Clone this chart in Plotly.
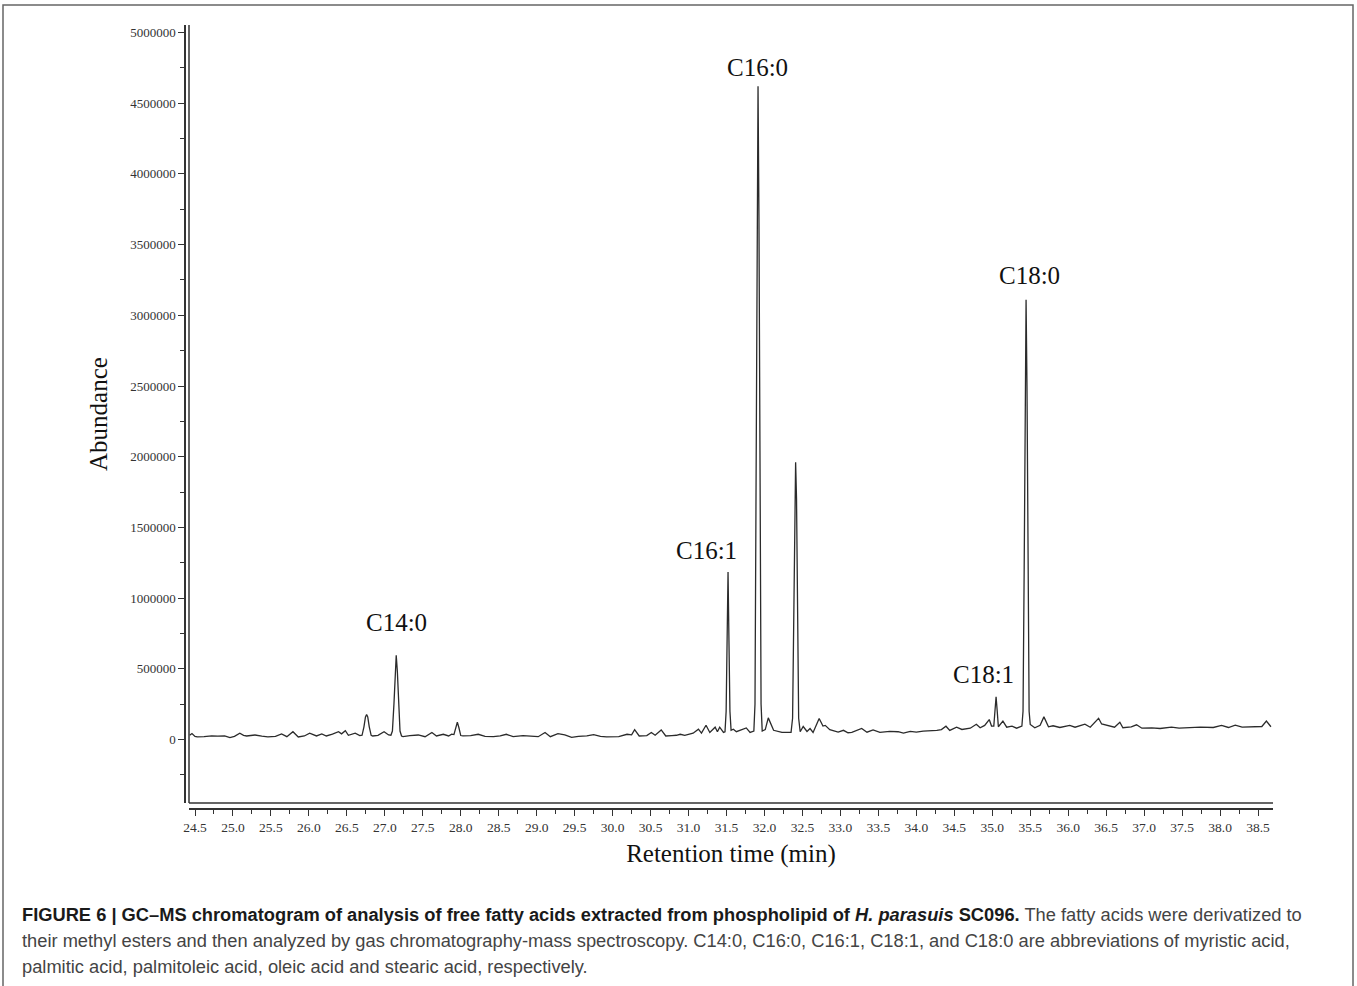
import plotly.graph_objects as go

# Retention time (min) and abundance
time_min = [
    24.43, 24.46, 24.50, 24.53, 24.62, 24.72, 24.80, 24.89, 24.96, 25.02,
    25.09, 25.14, 25.18, 25.29, 25.38, 25.46, 25.56, 25.64, 25.71, 25.79,
    25.86, 25.94, 26.01, 26.10, 26.17, 26.23, 26.31, 26.39, 26.43, 26.48,
    26.52, 26.57, 26.61, 26.67, 26.70, 26.725, 26.745, 26.76, 26.775, 26.795,
    26.82, 26.84, 26.91, 26.99, 27.05, 27.08, 27.10, 27.12, 27.135, 27.15,
    27.165, 27.18, 27.20, 27.22, 27.24, 27.33, 27.44, 27.53, 27.62, 27.68,
    27.77, 27.84, 27.88, 27.91, 27.935, 27.955, 27.975, 28.00, 28.03, 28.13,
    28.23, 28.32, 28.43, 28.52, 28.60, 28.69, 28.82, 28.92, 29.02, 29.11,
    29.18, 29.28, 29.37, 29.46, 29.55, 29.66, 29.75, 29.84, 29.92, 30.08,
    30.19, 30.25, 30.29, 30.35, 30.45, 30.51, 30.56, 30.64, 30.70, 30.78,
    30.84, 30.89, 30.95, 31.06, 31.13, 31.17, 31.23, 31.28, 31.35, 31.38,
    31.41, 31.46, 31.48, 31.495, 31.508, 31.52, 31.532, 31.545, 31.56, 31.59,
    31.63, 31.70, 31.76, 31.81, 31.86, 31.875, 31.89, 31.903, 31.915, 31.927,
    31.94, 31.955, 31.97, 32.01, 32.05, 32.12, 32.23, 32.35, 32.37, 32.385,
    32.398, 32.41, 32.422, 32.435, 32.45, 32.47, 32.51, 32.56, 32.60, 32.64,
    32.72, 32.77, 32.80, 32.86, 32.97, 33.04, 33.10, 33.15, 33.28, 33.35,
    33.43, 33.52, 33.65, 33.76, 33.83, 33.92, 34.00, 34.09, 34.18, 34.27,
    34.33, 34.39, 34.44, 34.53, 34.60, 34.71, 34.79, 34.84, 34.90, 34.96,
    34.99, 35.02, 35.035, 35.05, 35.065, 35.08, 35.14, 35.19, 35.26, 35.32,
    35.39, 35.405, 35.42, 35.433, 35.445, 35.457, 35.47, 35.485, 35.50, 35.56,
    35.63, 35.68, 35.74, 35.80, 35.89, 36.02, 36.09, 36.16, 36.22, 36.29,
    36.40, 36.44, 36.50, 36.61, 36.68, 36.72, 36.83, 36.90, 36.97, 37.10,
    37.21, 37.36, 37.46, 37.56, 37.74, 37.91, 38.02, 38.11, 38.20, 38.29,
    38.44, 38.55, 38.61, 38.67,
]
abundance = [
    30000, 42000, 22000, 18000, 20000, 26000, 24000, 26000, 13000, 22000,
    45000, 30000, 25000, 32000, 24000, 18000, 22000, 40000, 20000, 55000,
    18000, 25000, 45000, 25000, 40000, 25000, 38000, 55000, 40000, 62000,
    30000, 40000, 45000, 28000, 30000, 90000, 160000, 177000, 160000, 90000,
    30000, 25000, 30000, 55000, 32000, 30000, 60000, 250000, 480000, 596000,
    480000, 250000, 60000, 25000, 20000, 28000, 32000, 20000, 50000, 25000,
    37000, 25000, 38000, 35000, 85000, 122000, 85000, 28000, 25000, 28000,
    37000, 22000, 20000, 25000, 37000, 20000, 28000, 24000, 20000, 50000,
    20000, 42000, 33000, 15000, 22000, 25000, 35000, 22000, 18000, 20000,
    37000, 33000, 70000, 25000, 28000, 50000, 30000, 68000, 25000, 28000,
    30000, 37000, 30000, 45000, 73000, 45000, 101000, 50000, 87000, 55000,
    87000, 50000, 55000, 200000, 700000, 1185000, 700000, 200000, 65000, 73000,
    55000, 68000, 82000, 50000, 60000, 250000, 1700000, 3700000, 4620000, 3700000,
    1700000, 250000, 60000, 70000, 153000, 65000, 50000, 50000, 150000, 900000,
    1700000, 1960000, 1700000, 900000, 150000, 55000, 92000, 57000, 78000, 50000,
    148000, 95000, 100000, 70000, 52000, 65000, 48000, 50000, 78000, 52000,
    68000, 50000, 57000, 55000, 45000, 58000, 52000, 60000, 61000, 65000,
    70000, 94000, 64000, 87000, 71000, 80000, 108000, 83000, 100000, 141000,
    95000, 95000, 200000, 302000, 200000, 90000, 130000, 87000, 94000, 80000,
    95000, 200000, 1200000, 2500000, 3110000, 2500000, 1200000, 200000, 106000, 83000,
    100000, 160000, 90000, 97000, 85000, 100000, 87000, 100000, 108000, 87000,
    150000, 110000, 100000, 87000, 122000, 83000, 90000, 104000, 80000, 82000,
    78000, 87000, 80000, 83000, 87000, 85000, 100000, 85000, 102000, 88000,
    90000, 92000, 130000, 90000,
]

# Peak labels
peak_labels = ["C14:0", "C16:1", "C16:0", "C18:1", "C18:0"]
peak_label_time = [27.15, 31.23, 31.91, 34.88, 35.49]
peak_label_abund = [824000, 1340000, 4756000, 463000, 3285000]

# Axis ticks
x_tick_vals = [24.5, 25.0, 25.5, 26.0, 26.5, 27.0, 27.5, 28.0, 28.5, 29.0,
               29.5, 30.0, 30.5, 31.0, 31.5, 32.0, 32.5, 33.0, 33.5, 34.0,
               34.5, 35.0, 35.5, 36.0, 36.5, 37.0, 37.5, 38.0, 38.5]
x_tick_text = ["24.5", "25.0", "25.5", "26.0", "26.5", "27.0", "27.5", "28.0",
               "28.5", "29.0", "29.5", "30.0", "30.5", "31.0", "31.5", "32.0",
               "32.5", "33.0", "33.5", "34.0", "34.5", "35.0", "35.5", "36.0",
               "36.5", "37.0", "37.5", "38.0", "38.5"]
y_tick_vals = [0, 500000, 1000000, 1500000, 2000000, 2500000, 3000000,
               3500000, 4000000, 4500000, 5000000]
y_tick_text = ["0", "500000", "1000000", "1500000", "2000000", "2500000",
               "3000000", "3500000", "4000000", "4500000", "5000000"]

caption_lines = [
    "<b><span style='color:#1a1a1a'>FIGURE 6 | GC–MS chromatogram of analysis of free fatty acids extracted from "
    "phospholipid of <i>H. parasuis</i> SC096.</span></b> The fatty acids were derivatized to",
    "their methyl esters and then analyzed by gas chromatography-mass spectroscopy. "
    "C14:0, C16:0, C16:1, C18:1, and C18:0 are abbreviations of myristic acid,",
    "palmitic acid, palmitoleic acid, oleic acid and stearic acid, respectively.",
]

W, H = 1357, 986
ML, MR, MT, MB = 185, 84, 25, 177
PW = W - ML - MR
PH = H - MT - MB


def px_x(px):
    return (px - ML) / PW


def px_y(py):
    return (H - MB - py) / PH


axis_color = "#333333"
serif = "Liberation Serif, Times New Roman, serif"

fig = go.Figure()
fig.add_trace(go.Scatter(
    x=time_min, y=abundance, mode="lines",
    line=dict(color="#2b2b2b", width=1.3),
    showlegend=False, hoverinfo="x+y",
))

for lab, t, a in zip(peak_labels, peak_label_time, peak_label_abund):
    fig.add_annotation(x=t, y=a, xref="x", yref="y", text=lab, showarrow=False,
                       font=dict(family=serif, size=25, color="#111111"),
                       xanchor="center", yanchor="middle")

caption_y = [915, 941, 967]
for line, py in zip(caption_lines, caption_y):
    fig.add_annotation(x=px_x(20), y=px_y(py), xref="paper", yref="paper",
                       text=line, showarrow=False, xanchor="left", yanchor="middle",
                       align="left",
                       font=dict(family="Liberation Sans, Arial, sans-serif",
                                 size=18.3, color="#444444"))

# inner frame lines
fig.add_shape(type="line", xref="x domain", yref="y domain", x0=0, x1=0, y0=0, y1=1,
              line=dict(color=axis_color, width=1.5))
fig.add_shape(type="line", xref="x domain", yref="y domain", x0=0, x1=1, y0=0, y1=0,
              line=dict(color=axis_color, width=1.5))
# outer figure border
fig.add_shape(type="rect", xref="paper", yref="paper",
              x0=px_x(3), x1=px_x(1353), y0=px_y(1000), y1=px_y(5),
              line=dict(color="#666666", width=1.5))

fig.update_layout(
    width=W, height=H,
    margin=dict(l=ML, r=MR, t=MT, b=MB, autoexpand=False),
    paper_bgcolor="white", plot_bgcolor="white",
    xaxis=dict(
        anchor="free", position=0, domain=[4 / PW, 1],
        range=[24.421, 38.697],
        tickmode="array", tickvals=x_tick_vals, ticktext=x_tick_text,
        ticks="outside", ticklen=6, tickwidth=1.3, tickcolor=axis_color,
        minor=dict(dtick=0.25, tick0=24.5, ticks="outside", ticklen=4,
                   tickwidth=1.2, tickcolor=axis_color),
        showline=True, linecolor=axis_color, linewidth=1.5,
        showgrid=False, zeroline=False,
        tickfont=dict(family=serif, size=13.5, color="#333333"),
        title=dict(text="Retention time (min)", standoff=10,
                   font=dict(family=serif, size=25, color="#111111")),
    ),
    yaxis=dict(
        anchor="free", position=0, domain=[6 / PH, 1],
        range=[-449000, 5053000],
        tickmode="array", tickvals=y_tick_vals, ticktext=y_tick_text,
        ticks="outside", ticklen=6, tickwidth=1.3, tickcolor=axis_color,
        minor=dict(dtick=250000, tick0=0, ticks="outside", ticklen=4,
                   tickwidth=1.2, tickcolor=axis_color),
        showline=True, linecolor=axis_color, linewidth=1.5,
        showgrid=False, zeroline=False,
        tickfont=dict(family=serif, size=13, color="#333333"),
        title=dict(text="Abundance", standoff=14,
                   font=dict(family=serif, size=25, color="#111111")),
    ),
)

fig.write_html(
    "out.html",
    config={"displayModeBar": False},
    post_script="document.body.style.margin='0';document.body.style.overflow='hidden';",
)
